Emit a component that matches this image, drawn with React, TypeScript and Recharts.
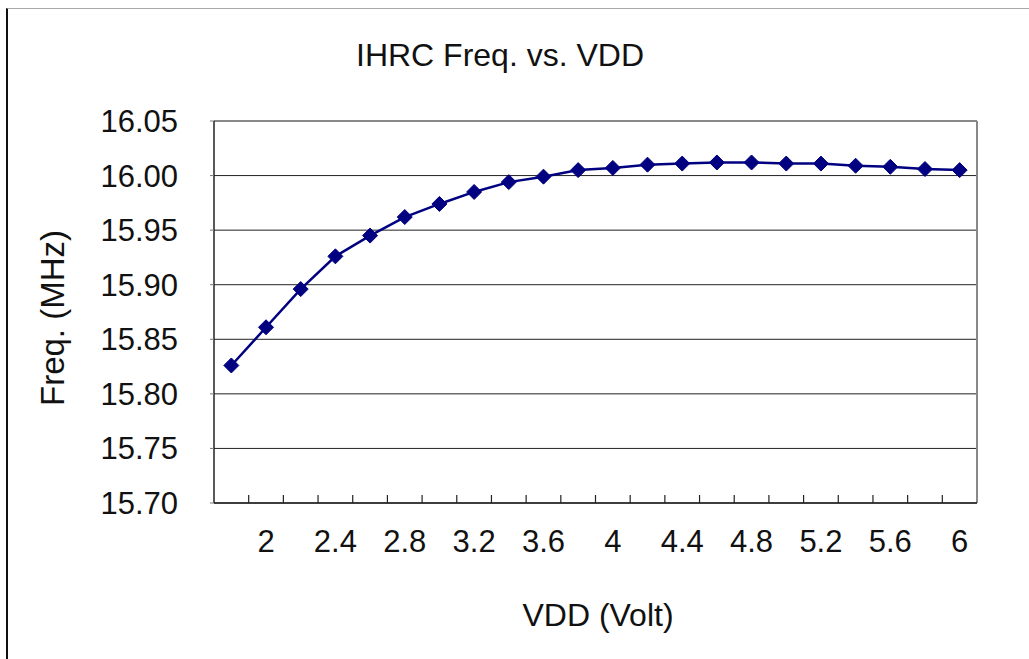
import { LineChart, Line, XAxis, YAxis, CartesianGrid, ReferenceLine } from 'recharts';

const VDD = [1.8, 2.0, 2.2, 2.4, 2.6, 2.8, 3.0, 3.2, 3.4, 3.6, 3.8, 4.0, 4.2, 4.4, 4.6, 4.8, 5.0, 5.2, 5.4, 5.6, 5.8, 6.0];
const FREQ = [
  15.826, 15.861, 15.896, 15.926, 15.945, 15.962, 15.974, 15.985, 15.994, 15.999, 16.005,
  16.007, 16.010, 16.011, 16.012, 16.012, 16.011, 16.011, 16.009, 16.008, 16.006, 16.005,
];
const X_LABELS = [2, 2.4, 2.8, 3.2, 3.6, 4, 4.4, 4.8, 5.2, 5.6, 6];
// tick marks sit between the points, like the spreadsheet chart
const X_MARKS = [1.9, 2.1, 2.3, 2.5, 2.7, 2.9, 3.1, 3.3, 3.5, 3.7, 3.9, 4.1, 4.3, 4.5, 4.7, 4.9, 5.1, 5.3, 5.5, 5.7, 5.9];
const X_DOMAIN = [1.7, 6.1];
const Y_TICKS = [15.7, 15.75, 15.8, 15.85, 15.9, 15.95, 16.0, 16.05];

const data = VDD.map((v, i) => ({ vdd: v, freq: FREQ[i] }));

const FONT = '"Liberation Sans", Arial, sans-serif';
const NAVY = '#000080';

const Diamond = (props: any) => {
  const { cx, cy, index } = props;
  if (cx == null || cy == null) return null;
  const r = 7.5;
  return (
    <polygon key={index} points={`${cx},${cy - r} ${cx + r},${cy} ${cx},${cy + r} ${cx - r},${cy}`}
      fill={NAVY} stroke={NAVY} strokeWidth={1} />
  );
};

export default function App() {
  return (
    <div style={{ position: 'fixed', left: 0, top: 0, width: 1029, height: 659, background: '#fff', fontFamily: FONT, overflow: 'hidden' }}>
      <div style={{ position: 'absolute', left: 6, top: 8, width: 1100, height: 700, borderTop: '1px solid #a8a8a8', borderLeft: '2px solid #111' }} />
      <div style={{ position: 'absolute', left: 0, top: 0 }}>
        <LineChart width={1029} height={659} data={data} margin={{ top: 121, right: 52, bottom: 96, left: 0 }}>
          <CartesianGrid horizontal vertical={false} stroke="#222" strokeOpacity={1} />
          <XAxis xAxisId="marks" type="number" dataKey="vdd" domain={X_DOMAIN} ticks={X_MARKS}
            mirror height={1} axisLine={false} tickFormatter={() => ''} tickSize={8} interval={0}
            tickLine={{ stroke: '#222', strokeWidth: 1.2 }} allowDataOverflow />
          <XAxis xAxisId="lab" type="number" dataKey="vdd" domain={X_DOMAIN} ticks={X_LABELS}
            height={60} tickLine={false} tickSize={0} tickMargin={27} interval={0}
            axisLine={{ stroke: '#222', strokeWidth: 1.5 }}
            tick={{ fontSize: 31, fill: '#111', fontFamily: FONT }} allowDataOverflow />
          <YAxis type="number" domain={[15.7, 16.05]} ticks={Y_TICKS} width={214} interval={0}
            tickSize={4} tickMargin={32} tickLine={{ stroke: '#777' }}
            axisLine={{ stroke: '#222', strokeWidth: 1.5 }}
            tickFormatter={(v: number) => v.toFixed(2)}
            tick={{ fontSize: 31, fill: '#111', fontFamily: FONT }} allowDataOverflow />
          <ReferenceLine xAxisId="lab" y={16.05} stroke="#888" strokeWidth={2} />
          <ReferenceLine xAxisId="lab" x={6.1} stroke="#888" strokeWidth={2} />
          <Line xAxisId="lab" type="linear" dataKey="freq" stroke={NAVY} strokeWidth={2.5}
            dot={Diamond} activeDot={false} isAnimationActive={false} />
        </LineChart>
      </div>
      <div style={{ position: 'absolute', left: 300, width: 400, top: 37, textAlign: 'center', fontSize: 32, color: '#111', lineHeight: '36px' }}>
        IHRC Freq. vs. VDD
      </div>
      <div style={{ position: 'absolute', left: 448, width: 300, top: 596, textAlign: 'center', fontSize: 32, color: '#111', lineHeight: '38px' }}>
        VDD (Volt)
      </div>
      <div style={{ position: 'absolute', left: 53, top: 318, width: 0, height: 0 }}>
        <div style={{ position: 'absolute', left: -150, top: -19, width: 300, textAlign: 'center', fontSize: 33, color: '#111', lineHeight: '38px', transform: 'rotate(-90deg)' }}>
          Freq. (MHz)
        </div>
      </div>
    </div>
  );
}
